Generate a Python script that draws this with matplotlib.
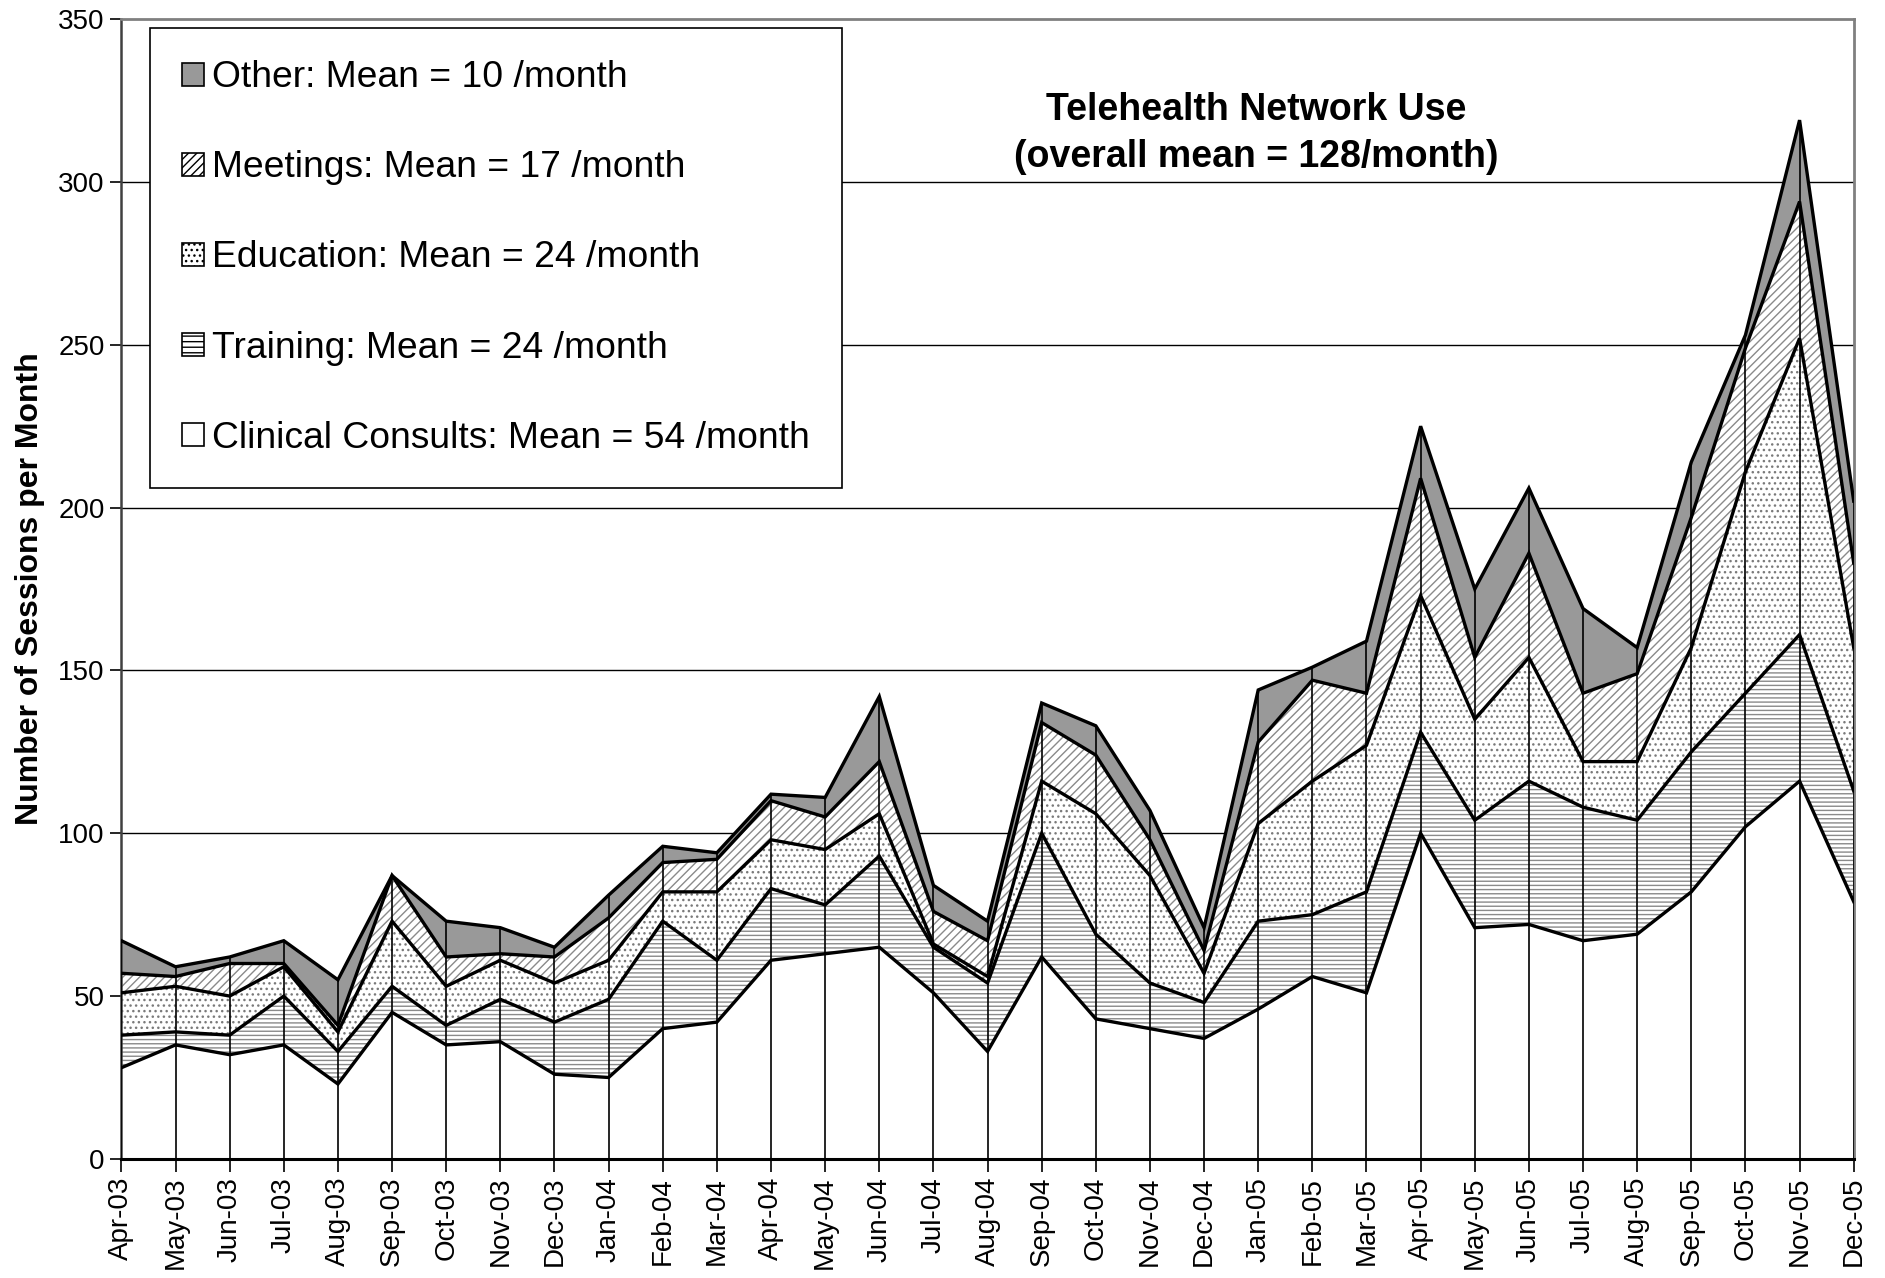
import numpy as np
import matplotlib
matplotlib.use("Agg")
import matplotlib.pyplot as plt
from matplotlib.patches import Patch

# monthly sessions by type, Apr-03 .. Dec-05
months = ["Apr-03", "May-03", "Jun-03", "Jul-03", "Aug-03", "Sep-03", "Oct-03",
          "Nov-03", "Dec-03", "Jan-04", "Feb-04", "Mar-04", "Apr-04", "May-04",
          "Jun-04", "Jul-04", "Aug-04", "Sep-04", "Oct-04", "Nov-04", "Dec-04",
          "Jan-05", "Feb-05", "Mar-05", "Apr-05", "May-05", "Jun-05", "Jul-05",
          "Aug-05", "Sep-05", "Oct-05", "Nov-05", "Dec-05"]
clinical = [28, 35, 32, 35, 23, 45, 35, 36, 26, 25, 40, 42, 61, 63, 65, 51, 33,
            62, 43, 40, 37, 46, 56, 51, 100, 71, 72, 67, 69, 82, 102, 116, 79]
training = [10, 4, 6, 15, 10, 8, 6, 13, 16, 24, 33, 19, 22, 15, 28, 14, 21,
            38, 26, 14, 11, 27, 19, 31, 31, 33, 44, 41, 35, 43, 41, 45, 34]
education = [13, 14, 12, 9, 6, 20, 12, 12, 12, 12, 9, 21, 15, 17, 13, 1, 2,
             16, 37, 33, 9, 30, 41, 45, 42, 31, 38, 14, 18, 32, 68, 91, 44]
meetings = [6, 3, 10, 1, 2, 14, 9, 2, 8, 13, 9, 10, 12, 10, 16, 10, 11,
            18, 18, 11, 7, 25, 31, 16, 36, 19, 32, 21, 27, 40, 38, 42, 26]
other = [10, 3, 2, 7, 14, 0, 11, 8, 3, 7, 5, 2, 2, 6, 20, 8, 6,
         6, 9, 9, 7, 16, 4, 16, 16, 21, 20, 26, 8, 17, 4, 25, 19]

labels = ["Clinical Consults: Mean = 54 /month", "Training: Mean = 24 /month",
          "Education: Mean = 24 /month", "Meetings: Mean = 17 /month",
          "Other: Mean = 10 /month"]

plt.rcParams['font.family'] = ['Liberation Sans', 'DejaVu Sans']
plt.rcParams['hatch.linewidth'] = 1.0

fig = plt.figure(figsize=(18.85, 12.78), dpi=100)
ax = fig.add_axes([0.0644, 0.0932, 0.919, 0.8918])

x = np.arange(len(months))
series = [clinical, training, education, meetings, other]
tops = np.cumsum(np.array(series, dtype=float), axis=0)
bottoms = np.vstack([np.zeros(len(months)), tops[:-1]])

# fill, hatch colour, hatch pattern per layer
styles = [("white", "none", None),
          ("white", "#8a8a8a", "----"),
          ("white", "#7a7a7a", "..."),
          ("white", "#8a8a8a", "////"),
          ("#999999", "none", None)]

for (fc, hc, hatch), lo, hi in zip(styles, bottoms, tops):
    ax.fill_between(x, lo, hi, facecolor=fc, edgecolor=hc, hatch=hatch,
                    linewidth=0, zorder=2)

# drop lines at each month
ax.vlines(x, 0, tops[-1], color="black", linewidth=1.2, zorder=3)

for hi in tops:
    ax.plot(x, hi, color="black", linewidth=2.4, solid_joinstyle="miter", zorder=4)

ax.set_xlim(0, len(months) - 1)
ax.set_ylim(0, 350)
ax.set_yticks(np.arange(0, 351, 50))
ax.set_xticks(x)
ax.set_xticklabels(months, rotation=90, fontsize=20)
ax.tick_params(axis='y', labelsize=20, length=8, width=1.2, direction='out', pad=4)
ax.tick_params(axis='x', length=9, width=1.2, direction='out', pad=4)

for yv in np.arange(50, 301, 50):
    ax.axhline(yv, color="black", linewidth=1.0, zorder=1)

for side in ['top', 'right']:
    ax.spines[side].set_color('#808080')
    ax.spines[side].set_linewidth(2.0)
ax.spines['left'].set_color('#404040')
ax.spines['left'].set_linewidth(1.8)
ax.spines['bottom'].set_linewidth(2.2)

ax.set_ylabel("Number of Sessions per Month", fontsize=23, fontweight='bold')
ax.yaxis.set_label_coords(-0.044, 0.5)

ax.text(0.655, 0.9, "Telehealth Network Use\n(overall mean = 128/month)",
        transform=ax.transAxes, ha='center', va='center', fontsize=27,
        fontweight='bold', linespacing=1.4, zorder=5)

legend_fill = ["white", "white", "white", "white", "#999999"]
legend_hatch = [None, "---", "...", "////", None]
handles = [Patch(facecolor=fc, edgecolor="black", hatch=h, linewidth=1.2)
           for fc, h in zip(legend_fill, legend_hatch)]
leg = ax.legend(handles[::-1], labels[::-1], loc='upper left',
                bbox_to_anchor=(0.0165, 0.992), prop={'size': 26.8},
                handlelength=0.58, handleheight=0.58, handletextpad=0.22,
                labelspacing=1.48, borderpad=0.86, borderaxespad=0,
                fancybox=False, framealpha=1, edgecolor='black')
leg.get_frame().set_linewidth(1.2)
leg.set_zorder(6)

fig.savefig("out.png", dpi=100, facecolor='white')
